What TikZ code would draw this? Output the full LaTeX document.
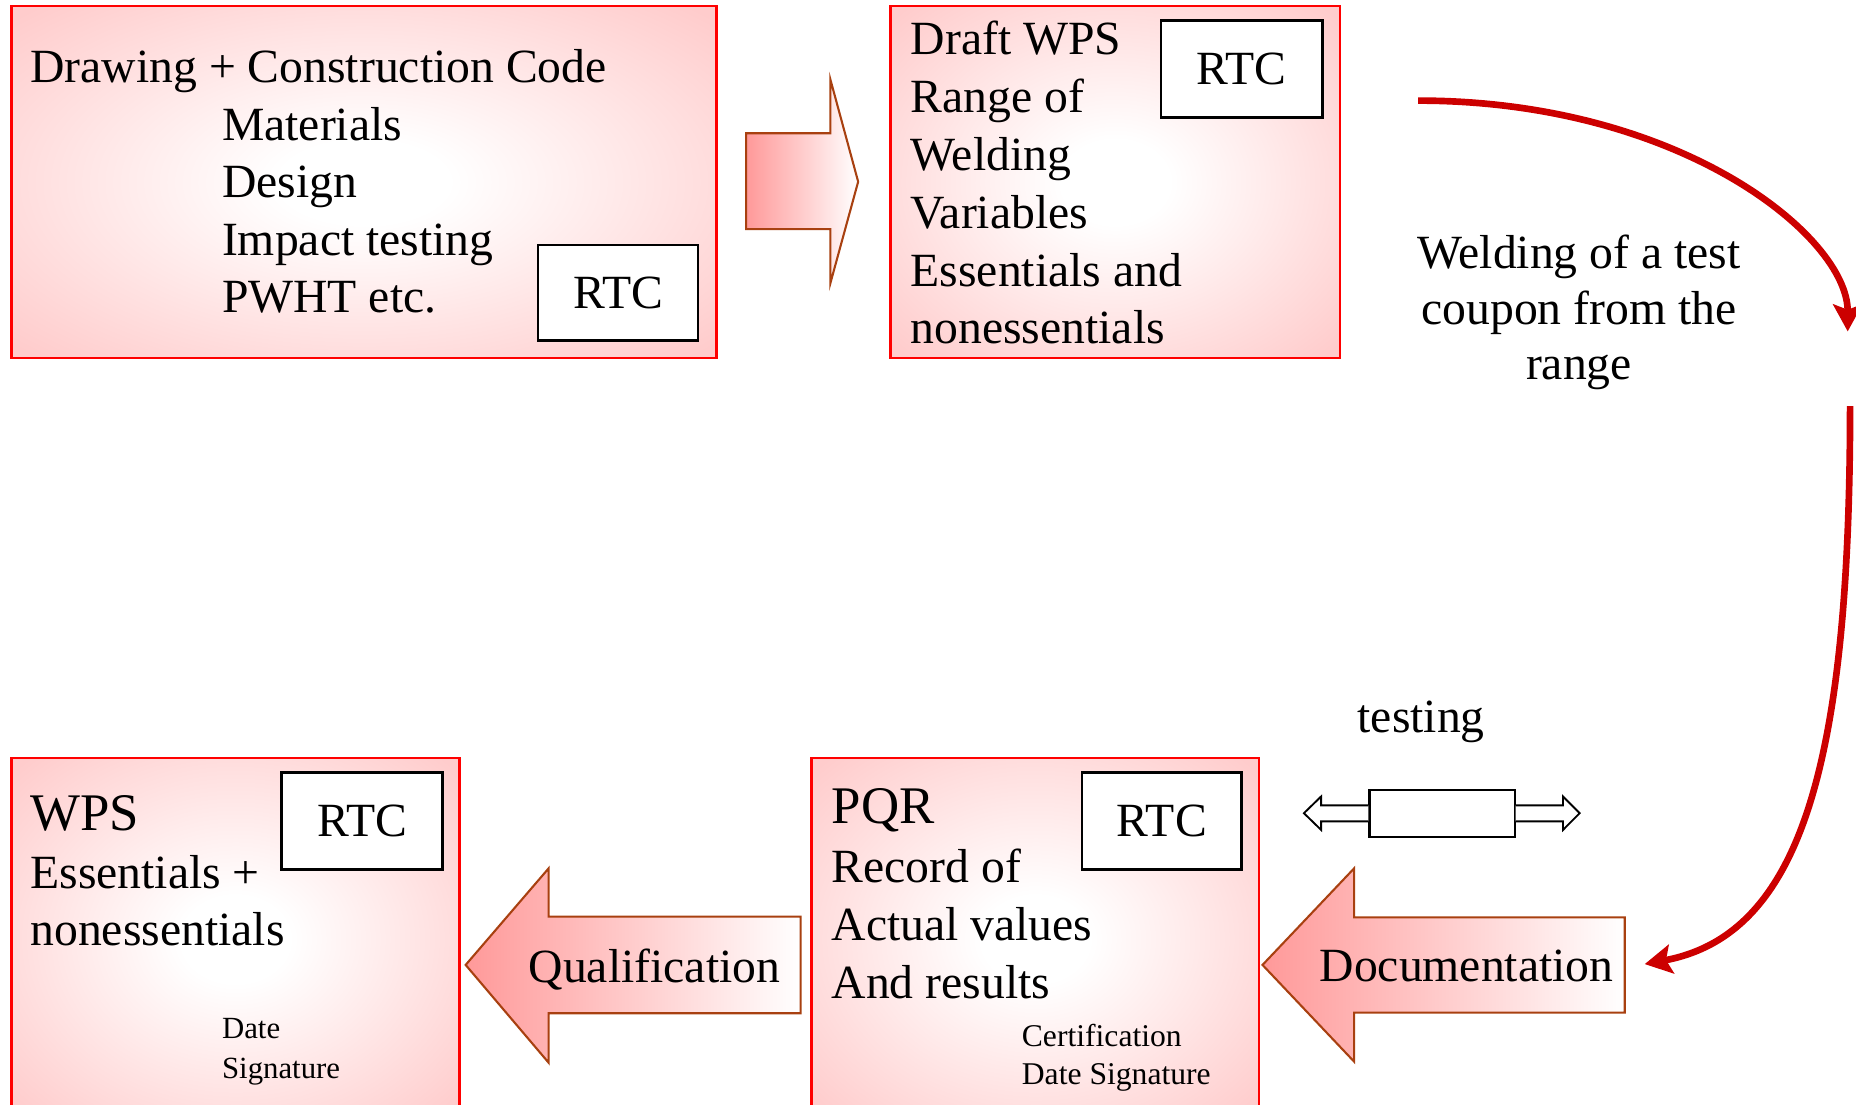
\documentclass[tikz,border=0pt]{standalone}
\usepackage{fontspec}
\setmainfont{Liberation Serif}
\usetikzlibrary{arrows.meta,calc}
\definecolor{boxpink}{HTML}{FFCCCC}
\definecolor{arrowpink}{HTML}{FF9999}
\definecolor{arrowline}{HTML}{A84010}
\definecolor{curvered}{HTML}{CC0000}
\definecolor{boxred}{HTML}{FF0000}
\pgfdeclareradialshading{boxglow}{\pgfpoint{0bp}{0bp}}{color(0bp)=(white); color(6bp)=(white); color(34bp)=(boxpink); color(50bp)=(boxpink)}
\tikzset{
  panel/.style={draw=boxred, line width=0.6pt, shading=boxglow, rectangle, inner sep=0pt, anchor=north west},
  rtcbox/.style={draw=black, line width=0.6pt, fill=white, inner sep=0pt, font=\fontsize{11.45}{13.8}\selectfont},
  body/.style={inner sep=0pt, anchor=base west, align=left, font=\fontsize{11.45}{13.9}\selectfont},
  bigtitle/.style={inner sep=0pt, anchor=base west, font=\fontsize{12.7}{14}\selectfont},
  smalltext/.style={inner sep=0pt, anchor=base west, align=left, font=\fontsize{7.5}{9.4}\selectfont},
  blockarrow/.style={draw=arrowline, line width=0.5pt, left color=arrowpink, right color=white},
  redcurve/.style={draw=curvered, line width=1.6pt, -{Stealth[length=6.5pt,width=7pt,inset=1.3pt]}},
  couponarrow/.style={draw=black, line width=0.45pt, fill=white},
}
\begin{document}
\begin{tikzpicture}[x=0.01cm,y=-0.01cm]
\clip (0,0) rectangle (1568,933);
% panels
\node[panel, minimum width=5.953cm, minimum height=2.971cm] (p1) at (8.5,4.2) {};
\node[panel, minimum width=3.796cm, minimum height=2.971cm] (p2) at (751.3,4.2) {};
\node[panel, minimum width=3.779cm, minimum height=3.06cm] (p3) at (684.6,639.3) {};
\node[panel, minimum width=3.784cm, minimum height=3.06cm] (p4) at (8.5,639.3) {};
% RTC boxes
\node[rtcbox, minimum width=1.352cm, minimum height=0.808cm] (r1) at (522.1,247.4) {RTC};
\node[rtcbox, minimum width=1.362cm, minimum height=0.816cm] (r2) at (1049.1,58.3) {RTC};
\node[rtcbox, minimum width=1.345cm, minimum height=0.816cm] (r3) at (981.6,693.6) {RTC};
\node[rtcbox, minimum width=1.358cm, minimum height=0.816cm] (r4) at (305.9,693.6) {RTC};
% panel 1 text (multi-line nodes are placed by the baseline of their last line)
\node[body] (t1a) at (25,70) {Drawing + Construction Code};
\node[body, font=\fontsize{11.45}{13.8}\selectfont] (t1b) at (186.9,264) {Materials\\Design\\Impact testing\\PWHT etc.};
% panel 2 text
\node[body] (t2) at (768.7,290.5) {Draft WPS\\Range of\\Welding\\Variables\\Essentials and\\nonessentials};
% panel 3 text
\node[bigtitle] (t3a) at (701.9,696.1) {PQR};
\node[body] (t3b) at (701.9,843.4) {Record of\\Actual values\\And results};
\node[smalltext, font=\fontsize{7.6}{9.1}\selectfont] (t3c) at (862.6,915.8) {Certification\\Date Signature};
% panel 4 text
\node[bigtitle] (t4a) at (25,701.8) {WPS};
\node[body, font=\fontsize{11.45}{13.65}\selectfont] (t4b) at (25,799) {Essentials +\\nonessentials};
\node[smalltext, font=\fontsize{7.4}{9.6}\selectfont] (t4c) at (186.9,911) {Date\\Signature};
% block arrows
\path[blockarrow] (630.3,112.6) -- (701.5,112.6) -- (701.5,67) -- (725,153.5) -- (701.5,239.4) -- (701.5,193.5) -- (630.3,193.5) -- cycle;
\path[blockarrow] (393.4,815.2) -- (463.5,733.6) -- (463.5,774.4) -- (676.4,774.4) -- (676.4,856) -- (463.5,856) -- (463.5,897.8) -- cycle;
\path[blockarrow] (1066.6,815.2) -- (1144,733.6) -- (1144,775) -- (1372.6,775) -- (1372.6,855.5) -- (1144,855.5) -- (1144,896.9) -- cycle;
\node[body] (qual) at (446,829.9) {Qualification};
\node[body] (doc) at (1114.2,829.3) {Documentation};
% welding label
\node[inner sep=0pt, anchor=base, align=center, font=\fontsize{11.45}{13.4}\selectfont] (weld) at (1334,321) {Welding of a test\\coupon from the\\range};
% testing
\node[inner sep=0pt, anchor=base, font=\fontsize{11.45}{13.8}\selectfont] (testing) at (1200.7,619) {testing};
\node[draw=black, line width=0.5pt, fill=white, inner sep=0pt, minimum width=1.226cm, minimum height=0.397cm] (coupon) at (1218.3,686.9) {};
\draw[couponarrow] ($(coupon.east)+(0,-6.5)$) -- ++(40,0) -- ++(0,-7.5) -- ++(14,14.1) -- ++(-14,14.1) -- ++(0,-7.2) -- ++(-40,0);
\draw[couponarrow] ($(coupon.west)+(0,-6.5)$) -- ++(-40,0) -- ++(0,-7.5) -- ++(-14.5,14.1) -- ++(14.5,14.1) -- ++(0,-7.2) -- ++(40,0);
% red curves
\coordinate (c1s) at (1198,85);
\coordinate (c1e) at (1561,280);
\coordinate (c2s) at (1563,343);
\coordinate (c2e) at (1389.5,814.5);
\draw[redcurve] (c1s) .. controls (1420,85) and (1561,200) .. (c1e);
\draw[redcurve] (c2s) .. controls (1563,650) and (1520,790) .. (c2e);
\end{tikzpicture}
\end{document}
